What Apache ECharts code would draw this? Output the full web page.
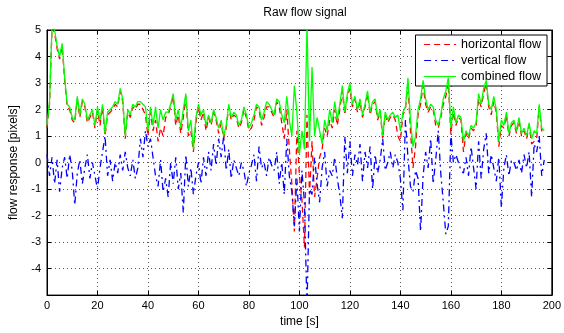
<!DOCTYPE html>
<html>
<head>
<meta charset="utf-8">
<script src="https://cdn.jsdelivr.net/npm/echarts@6/dist/echarts.min.js"></script>
<style>
  html, body { margin: 0; padding: 0; background: #fff; }
  #chart { width: 564px; height: 333px; }
</style>
</head>
<body>
<div id="chart"></div>
<script>
// one sample per second, t = 0 .. 197
const horizontal = [
  1.3, 2.2, 5.1, 4.9, 4.3, 3.9, 4.4, 3.1, 2.1, 2.0,
  1.6, 1.5, 2.4, 1.7, 2.3, 2.1, 1.5, 1.7, 1.9, 1.3,
  2.0, 1.4, 2.1, 1.0, 1.8, 1.9, 2.0, 2.2, 2.1, 2.7,
  2.3, 0.9, 1.9, 1.7, 2.1, 2.0, 2.2, 2.2, 2.0, 1.8,
  1.0, 1.9, 1.2, 1.6, 0.8, 1.3, 1.0, 1.7, 1.8, 2.1,
  2.5, 1.4, 1.8, 1.1, 1.7, 2.5, 1.0, 1.2, 0.4, 1.5,
  2.1, 1.6, 1.9, 1.2, 1.7, 1.4, 1.9, 1.6, 1.1, 1.5,
  0.9, 1.3, 2.1, 1.6, 1.8, 1.7, 1.3, 1.5, 2.0, 1.7,
  1.2, 1.3, 1.6, 2.1, 2.0, 1.4, 1.7, 2.1, 2.1, 1.9,
  1.7, 2.3, 2.1, 1.5, 0.9, 2.0, 0.5, -0.8, -2.6, 1.2,
  -0.5, -1.4, -3.2, 1.8, -1.2, 0.8, -1.3, -0.6, 0.2, 0.5,
  1.3, 1.0, 1.6, 1.3, 2.0, 1.4, 2.0, 2.7, 1.8, 2.5,
  2.8, 2.1, 2.4, 1.9, 2.3, 1.7, 2.1, 2.6, 1.8, 2.2,
  2.3, 1.6, 1.9, 0.9, 1.8, 1.5, 1.7, 1.8, 1.6, 1.0,
  0.8, 1.8, 2.0, 3.0, 1.2, -0.2, 0.6, 1.8, 2.2, 2.9,
  2.2, 1.9, 2.1, 2.0, 1.4, 1.3, 1.7, 2.2, 2.5, 3.0,
  1.1, 1.9, 1.4, 1.7, 1.6, 0.4, 1.1, 0.9, 1.3, 1.2,
  1.4, 2.4, 2.1, 2.6, 3.0, 2.1, 1.8, 2.3, 1.9, 0.6,
  1.4, 1.3, 1.8, 1.0, 1.4, 1.5, 1.1, 1.6, 1.0, 1.2,
  0.9, 1.4, 0.7, 0.8, 0.9, 2.1, 1.2, 1.1
];
const vertical = [
  0.3, -0.5, 0.2, -0.8, 0.1, -1.1, -0.2, 0.2, -0.6, 0.3,
  -0.3, -1.6, -0.4, 0.1, -0.8, -0.2, 0.3, -0.6, 0.0, -0.5,
  -1.0, -0.2, 0.4, 1.0, -0.5, 0.1, -0.7, 0.0, -0.4, 0.3,
  -0.3, 0.4, -0.2, -0.5, 0.1, -0.6, -0.2, 0.9, 0.2, 1.2,
  0.6, 0.9, 0.2, -0.5, -0.9, 0.1, -1.1, -0.6, -1.3, 0.0,
  -0.8, 0.2, -1.0, -0.4, -1.9, 0.3, -0.9, -0.2, -1.2, -0.5,
  0.0, -0.8, 0.2, -0.5, 0.4, -0.3, 0.7, -0.1, 0.9, 0.2,
  1.0, -0.3, 0.5, -0.6, 0.1, -0.2, -0.5, 0.0, -0.3, -0.9,
  -0.4, -0.1, 0.3, -0.7, 0.6, -0.2, 0.0, -0.5, 0.2, -0.1,
  -0.3, 0.4, -0.8, 0.0, -1.2, 0.9, -0.5, -1.1, -2.4, -0.6,
  -2.6, -0.3, -1.5, -5.5, -1.0, -1.2, 0.2, -0.8, -1.5, -0.2,
  0.4, -0.9, -0.3, -0.5, 0.2, -0.6, -1.2, -2.1, 1.0, -0.4,
  0.8, -0.5, 0.3, -0.1, 0.7, -0.7, 0.4, -0.2, 0.6, -1.0,
  0.3, -0.4, 0.1, 0.9, -0.3, 0.0, 0.4, -0.2, 0.3, 0.0,
  -0.6, -1.8, 1.6, 0.2, -0.9, -1.1, -0.3, -0.6, -2.6, -0.5,
  0.4, -0.2, 0.9, -0.8, 0.1, 1.2, -0.4, -1.5, -2.7, -2.4,
  1.1, 0.0, 0.3, 0.0, -0.3, -0.4, 0.2, -0.5, 0.6, -0.2,
  -1.0, 0.8, -0.6, 0.5, 1.1, -0.4, 0.3, -0.2, -0.7, 0.2,
  -1.7, -0.2, 0.3, -0.5, 0.1, 0.0, -0.3, 0.1, -0.4, 0.3,
  -0.2, 0.4, -1.3, 0.7, 0.4, 1.0, -0.5, 0.1
];
const combined = [
  1.4, 2.3, 5.2, 5.0, 4.4, 4.0, 4.5, 3.2, 2.2, 2.1,
  1.7, 1.6, 2.5, 1.8, 2.4, 2.2, 1.6, 1.8, 2.0, 1.4,
  2.1, 1.6, 2.2, 1.1, 1.9, 2.0, 2.1, 2.3, 2.2, 2.8,
  2.4, 1.0, 2.0, 1.8, 2.2, 2.1, 2.3, 2.3, 2.2, 2.1,
  1.2, 2.1, 1.4, 2.1, 1.3, 2.0, 1.6, 1.9, 1.9, 2.2,
  2.6, 1.6, 2.0, 1.3, 2.0, 2.6, 1.2, 1.6, 0.5, 1.7,
  2.2, 1.8, 2.0, 1.4, 1.8, 1.5, 2.0, 1.7, 1.3, 1.6,
  1.0, 1.4, 2.2, 1.7, 1.9, 1.8, 1.4, 1.6, 2.1, 1.8,
  1.3, 1.5, 1.8, 2.2, 2.1, 1.6, 1.9, 2.3, 2.2, 2.0,
  1.8, 2.4, 2.3, 1.8, 1.5, 2.5, 1.6, 1.0, 2.9, 1.9,
  0.3, 1.2, 0.5, 5.2, 0.8, 3.6, 1.0, 1.7, 1.2, 0.7,
  1.6, 1.2, 2.0, 1.5, 2.3, 1.6, 2.2, 2.9, 1.9, 2.6,
  3.0, 2.2, 2.5, 2.0, 2.4, 1.8, 2.2, 2.7, 1.9, 2.3,
  2.4, 1.7, 2.0, 1.0, 1.9, 1.6, 1.8, 1.9, 1.7, 1.8,
  1.2, 1.9, 2.1, 3.2, 1.6, 0.6, 1.0, 2.0, 2.4, 3.1,
  2.4, 2.0, 2.2, 2.1, 1.6, 1.4, 1.8, 2.4, 2.7, 3.2,
  1.3, 2.1, 1.5, 1.8, 1.7, 0.8, 1.2, 1.0, 1.4, 1.3,
  1.5, 2.6, 2.2, 2.8, 3.1, 2.2, 2.0, 2.5, 2.0, 0.8,
  1.6, 1.4, 1.9, 1.1, 1.5, 1.6, 1.2, 1.7, 1.1, 1.3,
  1.0, 1.5, 0.9, 1.2, 1.1, 2.2, 1.3, 1.2
];
const sampleStep = 1; // seconds between samples
const xTicks = [0, 20, 40, 60, 80, 100, 120, 140, 160, 180, 200];
const yTicks = [-5, -4, -3, -2, -1, 0, 1, 2, 3, 4, 5];

const toPairs = arr => arr.map((v, i) => [i * sampleStep, v]);

const font = 'Liberation Sans, Arial, sans-serif';
const gridLine = { show: true, lineStyle: { color: '#555', type: [1, 3], width: 1 } };
const axisLine = { show: true, onZero: false, lineStyle: { color: '#000', width: 1 } };
const tick = { show: true, inside: true, length: 4, lineStyle: { color: '#000' } };

const chart = echarts.init(document.getElementById('chart'), null, { renderer: 'canvas' });

chart.setOption({
  backgroundColor: '#fff',
  animation: false,
  title: {
    text: 'Raw flow signal',
    left: 300,
    top: 2,
    textAlign: 'center',
    textStyle: { fontFamily: font, fontSize: 12, fontWeight: 'normal', color: '#000' }
  },
  legend: {
    right: 17,
    top: 35,
    orient: 'vertical',
    backgroundColor: '#fff',
    borderColor: '#000',
    borderWidth: 1,
    borderRadius: 0,
    padding: [3, 6, 3, 8],
    itemGap: 3,
    itemWidth: 32,
    itemHeight: 12,
    itemStyle: { opacity: 0 },
    lineStyle: { width: 1.2 },
    textStyle: { fontFamily: font, fontSize: 12.5, color: '#000' },
    data: ['horizontal flow', 'vertical flow', 'combined flow']
  },
  grid: {
    left: 47,
    right: 11,
    top: 30,
    bottom: 36,
    show: true,
    borderColor: '#000',
    borderWidth: 1,
    backgroundColor: 'transparent'
  },
  xAxis: [{
    type: 'value',
    min: xTicks[0],
    max: xTicks[xTicks.length - 1],
    interval: 20,
    name: 'time [s]',
    nameLocation: 'middle',
    nameGap: 20,
    nameTextStyle: { fontFamily: font, fontSize: 12, color: '#000' },
    axisLine: axisLine,
    axisTick: tick,
    axisLabel: { fontFamily: font, fontSize: 11, color: '#000', margin: 5 },
    splitLine: gridLine
  }, {
    type: 'value',
    position: 'top',
    min: xTicks[0],
    max: xTicks[xTicks.length - 1],
    interval: 20,
    axisLine: axisLine,
    axisTick: tick,
    axisLabel: { show: false },
    splitLine: { show: false }
  }],
  yAxis: [{
    type: 'value',
    min: yTicks[0],
    max: yTicks[yTicks.length - 1],
    interval: 1,
    name: 'flow response [pixels]',
    nameLocation: 'middle',
    nameGap: 27,
    nameTextStyle: { fontFamily: font, fontSize: 12, color: '#000' },
    axisLine: axisLine,
    axisTick: tick,
    axisLabel: {
      fontFamily: font, fontSize: 11, color: '#000', margin: 6,
      formatter: v => (v === yTicks[0] ? '' : String(v))
    },
    splitLine: gridLine
  }, {
    type: 'value',
    position: 'right',
    min: yTicks[0],
    max: yTicks[yTicks.length - 1],
    interval: 1,
    axisLine: axisLine,
    axisTick: tick,
    axisLabel: { show: false },
    splitLine: { show: false }
  }],
  series: [{
    name: 'horizontal flow',
    type: 'line',
    data: toPairs(horizontal),
    showSymbol: false,
    symbol: 'none',
    clip: true,
    z: 2,
    itemStyle: { color: '#ff0000' },
    lineStyle: { color: '#ff0000', width: 1.3, type: [6, 4] }
  }, {
    name: 'vertical flow',
    type: 'line',
    data: toPairs(vertical),
    showSymbol: false,
    symbol: 'none',
    clip: true,
    z: 3,
    itemStyle: { color: '#0000ff' },
    lineStyle: { color: '#0000ff', width: 1.3, type: [7, 4, 2, 4] }
  }, {
    name: 'combined flow',
    type: 'line',
    data: toPairs(combined),
    showSymbol: false,
    symbol: 'none',
    clip: true,
    z: 4,
    itemStyle: { color: '#00ff00' },
    lineStyle: { color: '#00ff00', width: 1.3 }
  }]
});
</script>
</body>
</html>
